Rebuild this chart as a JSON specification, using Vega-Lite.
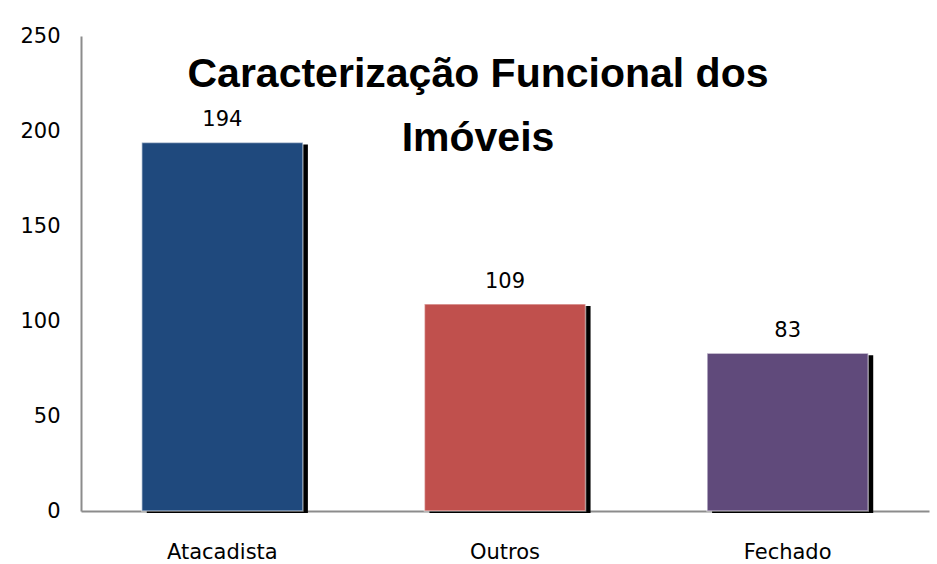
{
  "$schema": "https://vega.github.io/schema/vega-lite/v6.json",
  "autosize": {"type": "none"},
  "width": 848,
  "height": 475,
  "padding": {"left": 81, "top": 36, "right": 8, "bottom": 53},
  "background": "white",
  "title": {
    "text": ["Caracterização Funcional dos", "Imóveis"],
    "font": "Liberation Sans",
    "fontSize": 41,
    "fontWeight": "bold",
    "color": "black",
    "anchor": "middle",
    "baseline": "top",
    "lineHeight": 64,
    "offset": 0,
    "dy": 135,
    "dx": -27
  },
  "data": {
    "values": [
      {"categoria": "Atacadista", "imoveis": 194},
      {"categoria": "Outros", "imoveis": 109},
      {"categoria": "Fechado", "imoveis": 83}
    ]
  },
  "encoding": {
    "x": {
      "field": "categoria",
      "type": "nominal",
      "sort": null,
      "scale": {"paddingInner": 0.43, "paddingOuter": 0.215},
      "axis": {
        "title": null,
        "labelAngle": 0,
        "ticks": false,
        "labelPadding": 30,
        "labelFont": "DejaVu Sans",
        "labelFontSize": 21,
        "labelColor": "black",
        "domainColor": "#8c8c8c",
        "domainWidth": 2
      }
    },
    "y": {
      "field": "imoveis",
      "type": "quantitative",
      "scale": {"domain": [0, 250]},
      "axis": {
        "title": null,
        "values": [0, 50, 100, 150, 200, 250],
        "ticks": false,
        "grid": false,
        "labelPadding": 21,
        "labelFont": "DejaVu Sans",
        "labelFontSize": 21,
        "labelColor": "black",
        "domainColor": "#8c8c8c",
        "domainWidth": 2
      }
    }
  },
  "layer": [
    {
      "mark": {"type": "bar", "color": "black", "xOffset": 5, "yOffset": 2}
    },
    {
      "mark": {"type": "bar", "stroke": "white", "strokeOpacity": 0.5, "strokeWidth": 1.5},
      "encoding": {
        "color": {
          "field": "categoria",
          "type": "nominal",
          "sort": null,
          "scale": {"domain": ["Atacadista", "Outros", "Fechado"], "range": ["#1F497D", "#C0504D", "#604A7B"]},
          "legend": null
        }
      }
    },
    {
      "mark": {"type": "text", "baseline": "bottom", "dy": -12, "font": "DejaVu Sans", "fontSize": 21, "color": "black"},
      "encoding": {"text": {"field": "imoveis", "type": "quantitative"}}
    }
  ],
  "config": {"view": {"stroke": null}}
}
